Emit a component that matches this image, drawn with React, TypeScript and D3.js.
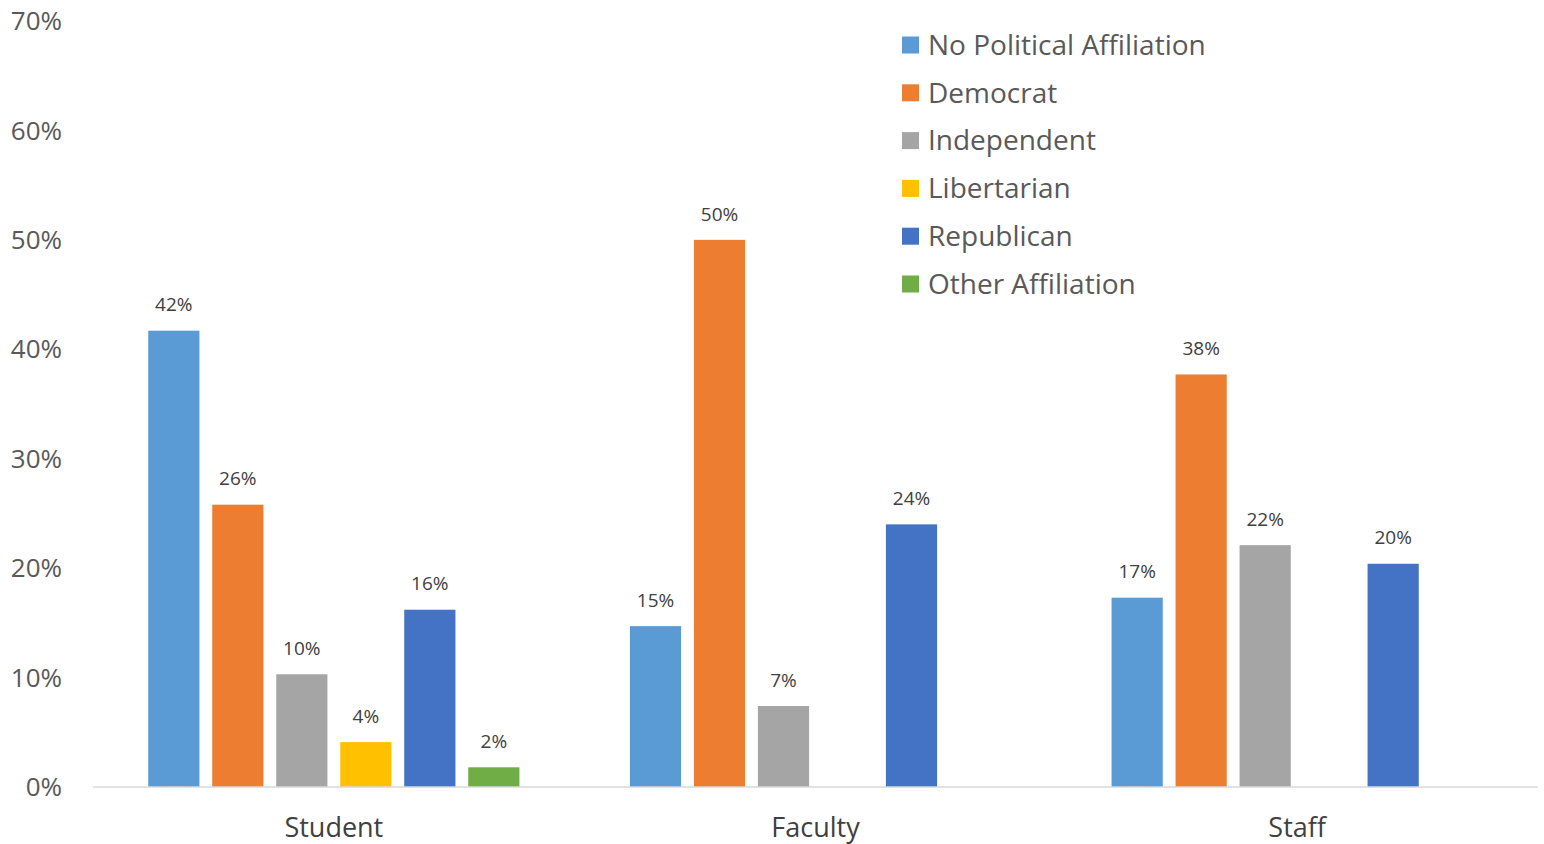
import React from 'react';
import * as d3 from 'd3';

const categories = ['Student', 'Faculty', 'Staff'];
const seriesNames = ['No Political Affiliation', 'Democrat', 'Independent', 'Libertarian', 'Republican', 'Other Affiliation'];
const seriesColors = ['#5B9BD5', '#ED7D31', '#A5A5A5', '#FFC000', '#4472C4', '#70AD47'];

// values in %, one array per series (Student, Faculty, Staff)
const noAffiliation = [41.7, 14.7, 17.3];
const democrat = [25.8, 50.0, 37.7];
const independent = [10.3, 7.4, 22.1];
const libertarian = [4.1, 0, 0];
const republican = [16.2, 24.0, 20.4];
const otherAffiliation = [1.8, 0, 0];

const seriesValues = [noAffiliation, democrat, independent, libertarian, republican, otherAffiliation];
const yTicks = [0, 10, 20, 30, 40, 50, 60, 70];

const WIDTH = 1544, HEIGHT = 844;
const MARGIN = { LEFT: 93, RIGHT: 6, TOP: 21, BOTTOM: 57 };
const FONT = '"Open Sans", "Noto Sans", sans-serif';

const App = () => {
    const x0 = d3.scaleBand<string>().domain(categories).range([MARGIN.LEFT, WIDTH - MARGIN.RIGHT]).paddingInner(0).paddingOuter(0);
    const groupWidth = 384;
    const x1 = d3.scaleBand<string>().domain(seriesNames).range([0, groupWidth]).paddingInner(0.2).paddingOuter(0.1);
    const y = d3.scaleLinear().domain([0, 70]).range([HEIGHT - MARGIN.BOTTOM, MARGIN.TOP]);

    const bars = categories.flatMap((c, ci) => seriesNames.map((s, si) => {
        const v = seriesValues[si][ci];
        if (!v) return null;
        const gx = (x0(c) as number) + (x0.bandwidth() - groupWidth) / 2 + (x1(s) as number);
        return (
            <g key={`${c}-${s}`}>
                <rect x={gx} y={y(v)} width={x1.bandwidth()} height={y(0) - y(v)} fill={seriesColors[si]} />
                <text x={gx + x1.bandwidth() / 2} y={y(v) - 26} dy='0.35em' textAnchor='middle' fontSize={19} fill='#404040'>{`${Math.round(v)}%`}</text>
            </g>
        );
    }));

    return (
        <svg width={WIDTH} height={HEIGHT} style={{ position: 'absolute', left: 0, top: 0 }} fontFamily={FONT}>
            <rect width={WIDTH} height={HEIGHT} fill='#ffffff' />
            {yTicks.map(t => (
                <text key={t} x={62} y={y(t)} dy='0.35em' textAnchor='end' fontSize={26} fill='#595959'>{`${t}%`}</text>
            ))}
            {bars}
            <line x1={MARGIN.LEFT} x2={WIDTH - MARGIN.RIGHT} y1={y(0)} y2={y(0)} stroke='#D9D9D9' strokeWidth={1.5} />
            {categories.map(c => (
                <text key={c} x={(x0(c) as number) + x0.bandwidth() / 2} y={828} dy='0.35em' textAnchor='middle' fontSize={27} fill='#404040'>{c}</text>
            ))}
            <g transform='translate(902, 45)'>
                {seriesNames.map((s, i) => (
                    <g key={s} transform={`translate(0, ${i * 47.8})`}>
                        <rect x={0} y={-8.5} width={17} height={17} fill={seriesColors[i]} />
                        <text x={26} y={0} dy='0.35em' fontSize={28} fill='#595959'>{s}</text>
                    </g>
                ))}
            </g>
        </svg>
    );
};

export default App;
